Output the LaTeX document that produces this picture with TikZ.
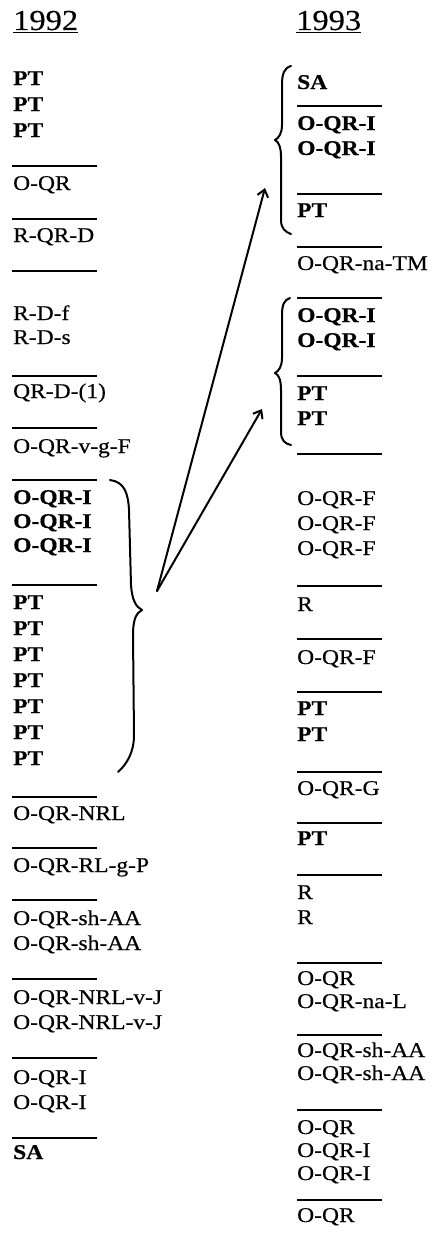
\documentclass[tikz,border=0pt]{standalone}
\usepackage{fontspec}
\setmainfont{Liberation Serif}[FakeStretch=1.12, FakeBold=0.4]
\usetikzlibrary{arrows.meta}
\tikzset{
 item/.style={anchor=base west, inner sep=0pt, font=\fontsize{21}{25}\selectfont},
 bitem/.style={anchor=base west, inner sep=0pt, font=\fontsize{21}{25}\selectfont\bfseries},
 head/.style={anchor=base west, inner sep=0pt, font=\fontsize{29}{34}\selectfont},
 rule/.style={line width=1.7pt},
 bracepath/.style={line width=2pt, line cap=round, line join=round},
 arr/.style={line width=2pt, line cap=round, -{Straight Barb[length=7pt,width=11pt,line width=2pt]}},
}
\begin{document}
\begin{tikzpicture}[x=1pt,y=-1pt]
\useasboundingbox (0,0) rectangle (431,1247);
% headers
\node[head] (h92) at (13,30) {1992};
\draw[rule] ([yshift=-2.5pt]h92.base west) -- ([yshift=-2.5pt]h92.base east);
\node[head] (h93) at (296,30) {1993};
\draw[rule] ([yshift=-2.5pt]h93.base west) -- ([yshift=-2.5pt]h93.base east);
% left column
\foreach \yy/\st/\txt [count=\i] in {
 85/bitem/PT, 111/bitem/PT, 137/bitem/PT,
 190/item/O-QR, 242/item/R-QR-D,
 320/item/R-D-f, 344/item/R-D-s,
 398/item/QR-D-(1), 453/item/O-QR-v-g-F,
 504/bitem/O-QR-I, 528/bitem/O-QR-I, 552/bitem/O-QR-I,
 609/bitem/PT, 635/bitem/PT, 661/bitem/PT, 687/bitem/PT, 713/bitem/PT, 739/bitem/PT, 765/bitem/PT,
 820/item/O-QR-NRL, 872/item/O-QR-RL-g-P,
 925/item/O-QR-sh-AA, 950/item/O-QR-sh-AA,
 1004/item/O-QR-NRL-v-J, 1029/item/O-QR-NRL-v-J,
 1084/item/O-QR-I, 1109/item/O-QR-I,
 1159/bitem/SA}
 \node[\st] (L\i) at (13,\yy) {\txt};
\foreach \yy in {166,219,271,376,428,480,585,797,848,900,979,1058,1138}
 \draw[rule] (12,\yy) -- (97,\yy);
% right column
\foreach \yy/\st/\txt [count=\i] in {
 89/bitem/SA,
 130/bitem/O-QR-I, 155/bitem/O-QR-I,
 217/bitem/PT,
 270/item/O-QR-na-TM,
 322/bitem/O-QR-I, 347/bitem/O-QR-I,
 400/bitem/PT, 425/bitem/PT,
 505/item/O-QR-F, 530/item/O-QR-F, 555/item/O-QR-F,
 611/item/R,
 664/item/O-QR-F,
 715/bitem/PT, 741/bitem/PT,
 795/item/O-QR-G,
 845/bitem/PT,
 899/item/R, 924/item/R,
 985/item/O-QR, 1008/item/O-QR-na-L,
 1057/item/O-QR-sh-AA, 1080/item/O-QR-sh-AA,
 1134/item/O-QR, 1157/item/O-QR-I, 1180/item/O-QR-I,
 1222/item/O-QR}
 \node[\st] (R\i) at (297,\yy) {\txt};
\foreach \yy in {106,194,247,298,376,454,586,639,692,772,823,875,963,1035,1110,1200}
 \draw[rule] (297,\yy) -- (382,\yy);
% braces
\draw[bracepath] (110,480) .. controls (124,482) and (128,492) .. (129,510)
 -- (131,585) .. controls (132,600) and (136,607) .. (142,610)
 .. controls (136,613) and (133,620) .. (133,635)
 -- (134,735) .. controls (134,752) and (127,764) .. (118,772);
\draw[bracepath] (291,66) .. controls (284,68) and (282,74) .. (282,85)
 -- (282,125) .. controls (282,133) and (279,138) .. (275,140)
 .. controls (279,142) and (281,148) .. (281,156)
 -- (281,220) .. controls (281,228) and (285,232) .. (291,234);
\draw[bracepath] (290,298) .. controls (284,300) and (282,305) .. (282,315)
 -- (282,358) .. controls (282,366) and (279,371) .. (275,373)
 .. controls (279,375) and (281,380) .. (281,390)
 -- (281,432) .. controls (281,440) and (285,444) .. (291,445);
% arrows
\coordinate (src) at (157,591);
\coordinate (t1) at (265,188);
\coordinate (t2) at (262,409);
\draw[arr] (src) -- (t1);
\draw[arr] (src) -- (t2);
\end{tikzpicture}
\end{document}
